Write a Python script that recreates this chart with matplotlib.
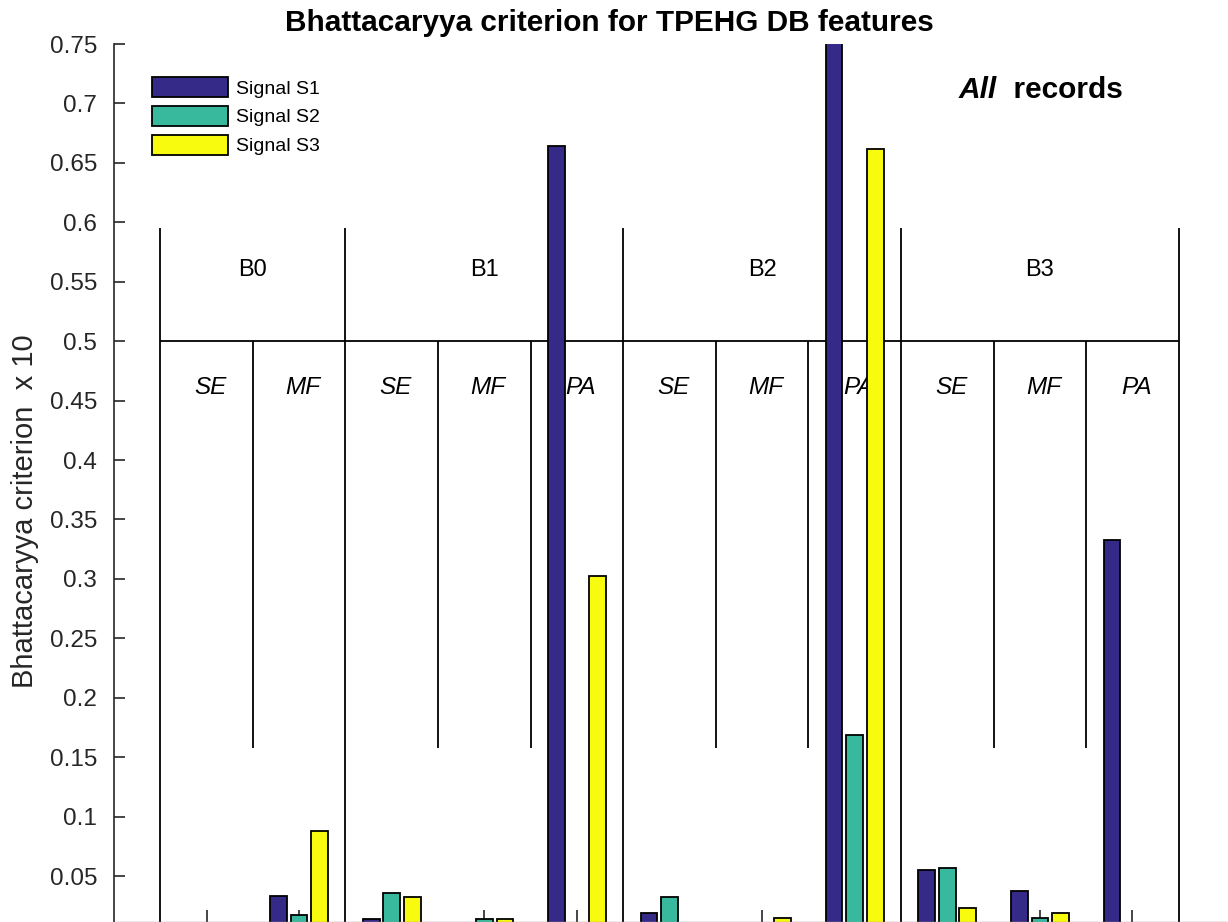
import matplotlib
matplotlib.use("Agg")
import matplotlib.pyplot as plt
import numpy as np

plt.rcParams['font.family'] = ['Liberation Sans', 'DejaVu Sans']

# feature groups (x positions 1..11)
features = ['SE', 'MF', 'SE', 'MF', 'PA', 'SE', 'MF', 'PA', 'SE', 'MF', 'PA']
bands = ['B0', 'B1', 'B2', 'B3']
band_edges = [0.5, 2.5, 5.5, 8.5, 11.5]

# Bhattacaryya criterion x 10 for each signal (0 = below visible range)
s1 = [0.0, 0.033, 0.014, 0.0, 0.664, 0.019, 0.0, 0.80, 0.055, 0.037, 0.333]
s2 = [0.0, 0.017, 0.036, 0.014, 0.0, 0.032, 0.0, 0.169, 0.057, 0.015, 0.0]
s3 = [0.0, 0.088, 0.032, 0.014, 0.302, 0.0, 0.015, 0.662, 0.023, 0.019, 0.0]
series = [s1, s2, s3]
names = ['Signal S1', 'Signal S2', 'Signal S3']
colors = ['#352a87', '#38b99e', '#f9fb0e']

fig = plt.figure(figsize=(12.28, 9.22), dpi=100)
ax = fig.add_axes([114 / 1228, 0.0, 1111 / 1228, 878 / 922])

x = np.arange(1, len(features) + 1)
width = 0.18
offsets = [-0.222, 0.0, 0.222]
for vals, name, c, off in zip(series, names, colors, offsets):
    ax.bar(x + off, vals, width, color=c, edgecolor='black', linewidth=1.3,
           label=name, zorder=2)

# band / feature table lines
ax.vlines(band_edges, 0.0, 0.595, color='black', linewidth=1.3, zorder=1)
inner = [e for e in np.arange(0.5, 12, 1.0) if e not in band_edges]
ax.vlines(inner, 0.158, 0.5, color='black', linewidth=1.3, zorder=1)
ax.hlines(0.5, 0.5, 11.5, color='black', linewidth=1.3, zorder=1)

for i, b in enumerate(bands):
    ax.text((band_edges[i] + band_edges[i + 1]) / 2, 0.56, b, ha='center',
            va='center', fontsize=17, zorder=0.5)
for xi, f in zip(x, features):
    ax.text(xi + 0.04, 0.4606, f, ha='center', va='center', fontsize=17.5,
            style='italic', zorder=0.5)

t = ax.text(9.535, 0.711, 'All', ha='right', va='center', fontsize=21.5,
            fontweight='bold', style='italic')
ax.annotate('  records', xy=(1, 0), xycoords=t, ha='left', va='bottom',
            fontsize=21.5, fontweight='bold')

ax.set_xlim(0, 12)
ax.set_ylim(0.0113, 0.75)
ax.set_yticks(np.arange(0.05, 0.751, 0.05))
ax.set_yticklabels(['0.05', '0.1', '0.15', '0.2', '0.25', '0.3', '0.35', '0.4',
                    '0.45', '0.5', '0.55', '0.6', '0.65', '0.7', '0.75'])
ax.set_xticks(x)
ax.set_xticklabels([])
ax.tick_params(axis='y', direction='in', length=8, width=1.2, colors='#262626',
               labelsize=17.5, pad=12)
ax.tick_params(axis='x', direction='in', length=8.5, width=1.2, colors='#262626')
ax.set_axisbelow(True)
for s in ['top', 'right']:
    ax.spines[s].set_visible(False)
ax.spines['left'].set_color('#262626')
ax.spines['left'].set_linewidth(1.2)
ax.spines['bottom'].set_color('#999999')
ax.spines['bottom'].set_linewidth(1.0)

ax.set_ylabel('Bhattacaryya criterion  x 10', fontsize=21, color='#262626')
ax.yaxis.set_label_coords(-0.0675, 0.468)

fig.text(609 / 1228, 1 - 31 / 922, 'Bhattacaryya criterion for TPEHG DB features',
         ha='center', va='baseline', fontsize=21.4, fontweight='bold')

ax.legend(loc='upper left', bbox_to_anchor=(0.027, 0.971), frameon=False,
          fontsize=14, handlelength=3.9, handleheight=1.2, labelspacing=0.42,
          handletextpad=0.45, borderaxespad=0)

fig.savefig('out.png', dpi=100)
